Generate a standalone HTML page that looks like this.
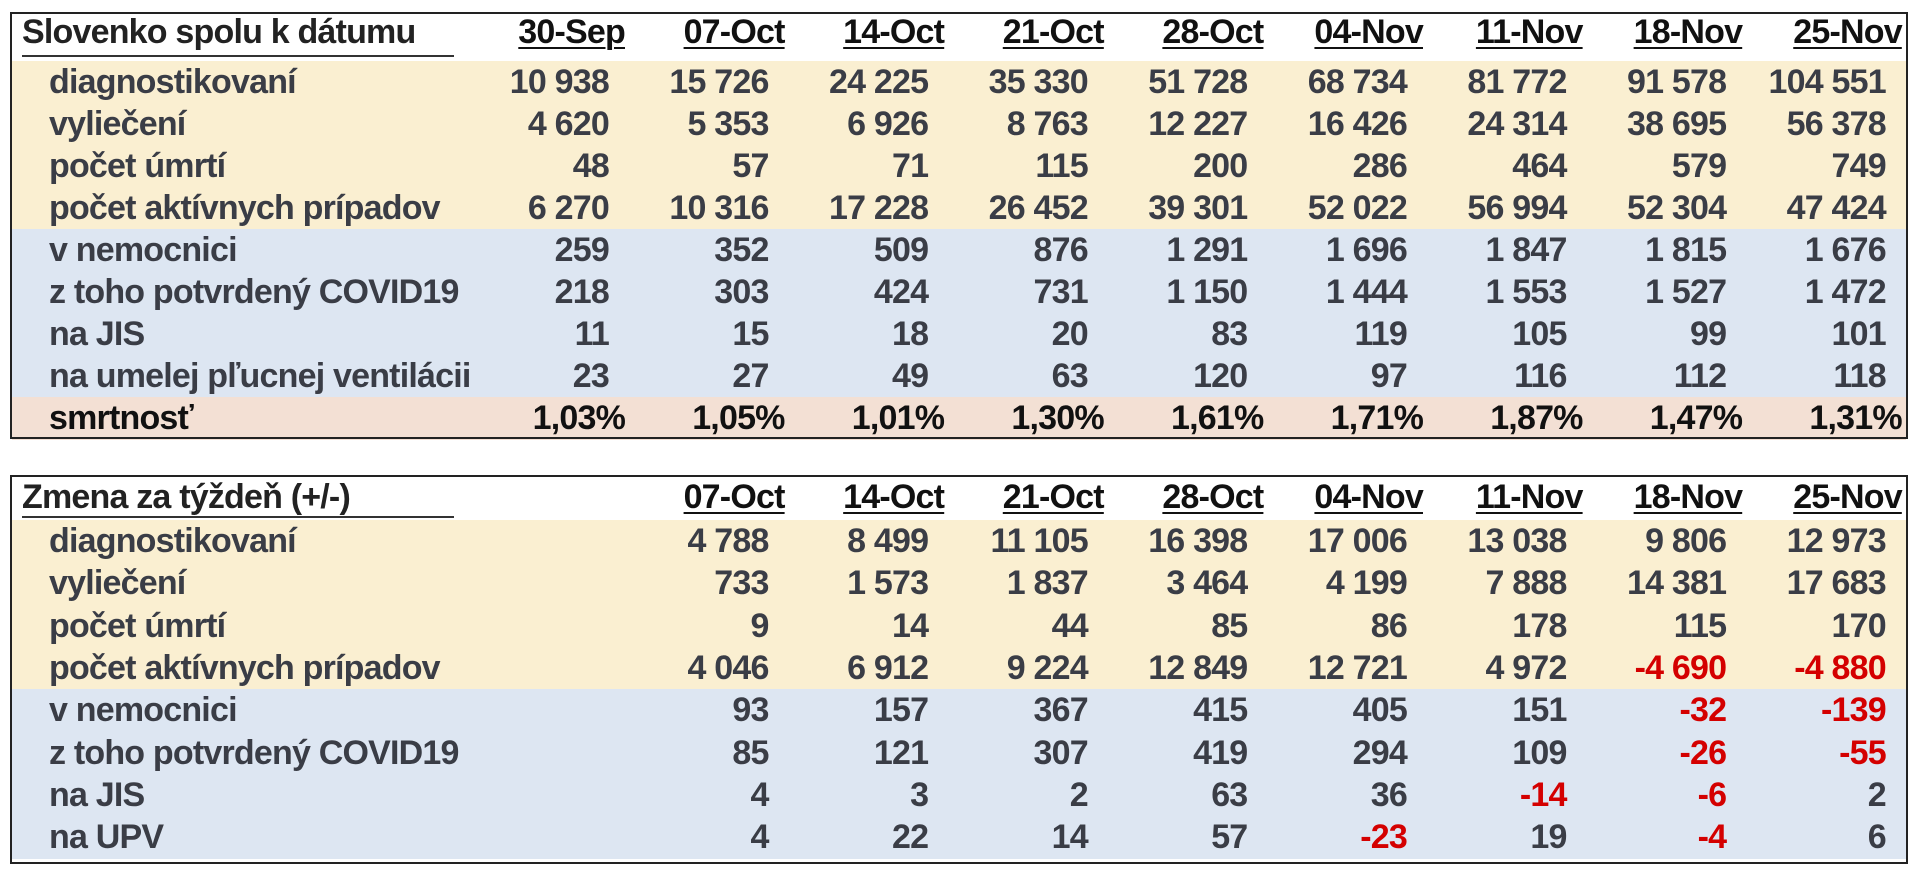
<!DOCTYPE html>
<html><head><meta charset="utf-8"><style>
body{margin:0;width:1920px;height:872px;background:#fff;position:relative;overflow:hidden;font-family:"Liberation Sans",Arial,sans-serif;font-weight:bold;font-size:34px;color:#3a3d46;letter-spacing:-0.8px}
.box{position:absolute;left:10px;width:1898px;border:2px solid #222;box-sizing:border-box;z-index:2}
.row{position:absolute;left:12px;width:1894px;height:43px;line-height:43px}
.y{background:#faefd1}.b{background:#dde6f2}.p{background:#f3e0d4;color:#111}
.h{color:#111}
.l{position:absolute;left:37px;white-space:nowrap}
.hl{position:absolute;left:10px;color:#222}
.n{position:absolute;width:260px;text-align:right;white-space:nowrap}
.u{text-decoration:underline;text-decoration-thickness:2px;text-underline-offset:4px;color:#111}
.r{color:#d40000}
.line{position:absolute;left:22px;width:432px;height:2px;background:#333}
</style></head><body>
<div class="box" style="top:12px;height:427px"></div>
<div class="line" style="top:55px"></div>
<div class="box" style="top:475px;height:389px"></div>
<div class="line" style="top:516px"></div>
<div id="t"></div>
<script>
var R=function(k,pct){return 1920-(627+159.6*k)+(pct?0:16)};
function row(top,cls,label,vals,start,header,pct){
 var s='<div class="row '+cls+'" style="top:'+top+'px">';
 s+= header?'<span class="hl">'+label+'</span>':'<span class="l">'+label+'</span>';
 vals.forEach(function(v,i){var k=i+start;var right=R(k,pct||header)-12;
  var c=header?'n u':(String(v).charAt(0)=='-'?'n r':'n');
  s+='<span class="'+c+'" style="right:'+right+'px"><span>'+v+'</span></span>';});
 return s+'</div>';}
var d1=['30-Sep','07-Oct','14-Oct','21-Oct','28-Oct','04-Nov','11-Nov','18-Nov','25-Nov'];
var h='';
h+=row(11,'h','Slovenko spolu k dátumu',d1,0,true);
var t1=[['diagnostikovaní',['10 938','15 726','24 225','35 330','51 728','68 734','81 772','91 578','104 551'],'y'],
['vyliečení',['4 620','5 353','6 926','8 763','12 227','16 426','24 314','38 695','56 378'],'y'],
['počet úmrtí',['48','57','71','115','200','286','464','579','749'],'y'],
['počet aktívnych prípadov',['6 270','10 316','17 228','26 452','39 301','52 022','56 994','52 304','47 424'],'y'],
['v nemocnici',['259','352','509','876','1 291','1 696','1 847','1 815','1 676'],'b'],
['z toho potvrdený COVID19',['218','303','424','731','1 150','1 444','1 553','1 527','1 472'],'b'],
['na JIS',['11','15','18','20','83','119','105','99','101'],'b'],
['na umelej pľucnej ventilácii',['23','27','49','63','120','97','116','112','118'],'b']];
t1.forEach(function(r,i){h+=row(61+i*42,r[2],r[0],r[1],0,false);});
h+=row(397,'p','smrtnosť',['1,03%','1,05%','1,01%','1,30%','1,61%','1,71%','1,87%','1,47%','1,31%'],0,false,true);
h+=row(476,'h','Zmena za týždeň (+/-)',d1.slice(1),1,true);
var t2=[['diagnostikovaní',['4 788','8 499','11 105','16 398','17 006','13 038','9 806','12 973'],'y'],
['vyliečení',['733','1 573','1 837','3 464','4 199','7 888','14 381','17 683'],'y'],
['počet úmrtí',['9','14','44','85','86','178','115','170'],'y'],
['počet aktívnych prípadov',['4 046','6 912','9 224','12 849','12 721','4 972','-4 690','-4 880'],'y'],
['v nemocnici',['93','157','367','415','405','151','-32','-139'],'b'],
['z toho potvrdený COVID19',['85','121','307','419','294','109','-26','-55'],'b'],
['na JIS',['4','3','2','63','36','-14','-6','2'],'b'],
['na UPV',['4','22','14','57','-23','19','-4','6'],'b']];
t2.forEach(function(r,i){h+=row(Math.round(520+i*42.3),r[2],r[0],r[1],1,false);});
document.getElementById('t').innerHTML=h;
</script>
</body></html>
